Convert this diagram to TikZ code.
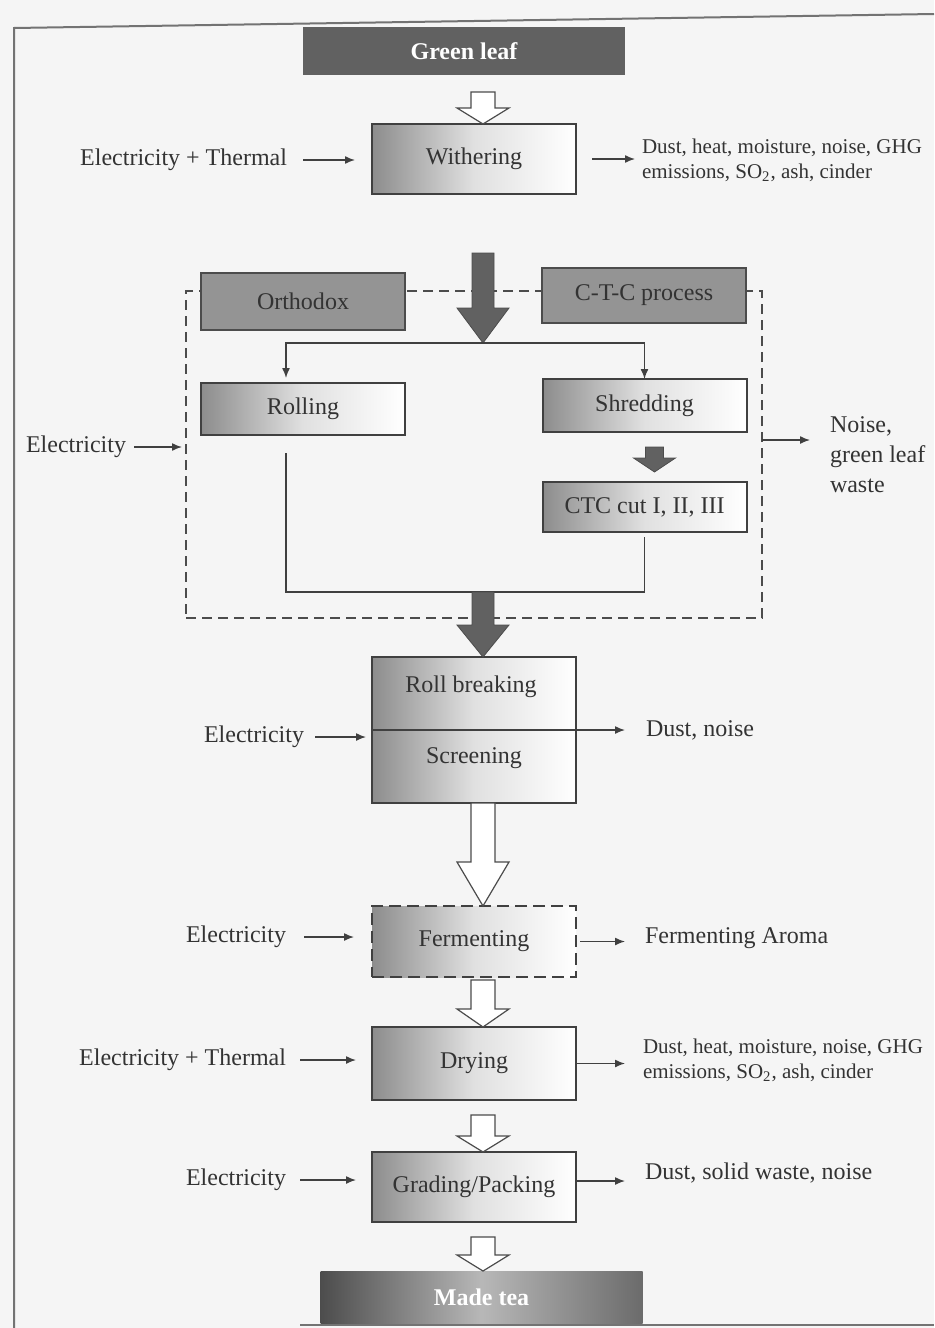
\documentclass[tikz,border=0pt]{standalone}
\usepackage{fontspec}
\setmainfont{Liberation Serif}
\usetikzlibrary{calc,arrows.meta}

\tikzset{
  proc/.style={draw=black!75, line width=1pt, minimum width=102pt, minimum height=35pt,
    inner sep=0pt, outer sep=0pt, left color=black!45, right color=white, middle color=black!12},
  greybox/.style={draw=black!70, line width=1pt, fill=black!42, minimum width=102pt,
    inner sep=0pt, outer sep=0pt},
  endbox/.style={minimum width=161pt, minimum height=24pt, inner sep=0pt, outer sep=0pt,
    text=white, font=\fontsize{12}{15}\selectfont\bfseries},
  lbl/.style={inner sep=0pt, outer sep=0pt},
  small/.style={font=\fontsize{10.5}{12.5}\selectfont},
  conn/.style={draw=black!75, line width=0.7pt, -{Latex[length=5pt,width=4pt]}},
  plain/.style={draw=black!75, line width=0.7pt},
  hollow/.style={draw=black!70, line width=0.6pt, fill=white},
  dark/.style={draw=black!70, line width=0.4pt, fill=black!62},
  frame/.style={draw=black!55, line width=1pt},
}

% block arrow: [style]{from}{to}{half shaft}{half head}{head length}
\newcommand{\blockarr}[6][]{%
  \path[#1] let \p1=(#2), \p2=(#3) in
    (\x1-#4,\y1) -- (\x1+#4,\y1) -- (\x1+#4,\y2+#6) -- (\x1+#5,\y2+#6)
    -- (\x1,\y2) -- (\x1-#5,\y2+#6) -- (\x1-#4,\y2+#6) -- cycle;}

\begin{document}
\begin{tikzpicture}[x=0.5pt, y=-0.5pt, font=\fontsize{12}{15}\selectfont, text=black!80]
  \useasboundingbox (0,0) rectangle (934,1328);
  % page
  \fill[black!4] (0,0) rectangle (934,1328);
  \draw[frame] (14,1328) -- (14,28) -- (934,14);
  \draw[frame] (300,1325) -- (934,1325);
  \coordinate (axis) at (483,0);

  % withering
  \node[endbox, fill=black!62] (green) at (464,51) {Green leaf};
  \node[proc] (wither) at (474,159) {Withering};
  \node[lbl, anchor=east] (inwither) at (287,160) {Electricity + Thermal};
  \node[lbl, small, anchor=west, align=left] (outwither) at (642,160)
    {Dust, heat, moisture, noise, GHG\\emissions, SO\textsubscript{2}, ash, cinder};
  \draw[conn, shorten <=8pt, shorten >=8.5pt] (inwither.east) -- (inwither.east -| wither.west);
  \draw[conn, shorten <=8pt, shorten >=3.5pt] (wither.east) -- (wither.east -| outwither.west);

  % rolling group
  \node[draw=black!70, line width=0.8pt, dash pattern=on 5pt off 3pt, minimum width=288pt,
    minimum height=163.5pt, inner sep=0pt, outer sep=0pt] (grp) at (474,454.5) {};
  \node[greybox, minimum height=28.5pt] (orth) at (303,301) {Orthodox};
  \node[greybox, minimum height=27.5pt] (ctcp) at (644,295.5) {C-T-C process};
  \node[proc, minimum height=26pt] (roll) at (303,409) {Rolling};
  \node[proc, minimum height=26.5pt] (shred) at (644.5,405.5) {Shredding};
  \node[proc, minimum height=25pt] (ctccut) at (644.5,507) {CTC cut I, II, III};
  \coordinate (darktop) at (483,253);
  \coordinate (split) at (483,343);
  \coordinate (merge) at (483,592);
  \blockarr[dark]{darktop}{split}{5.5pt}{13pt}{17.5pt}
  \draw[conn, shorten >=2.5pt] (split) -| ([xshift=-8.5pt]roll.north);
  \draw[conn] (split) -| (shred.north);
  \blockarr[dark]{$(shred.south)+(10,15)$}{$(ctccut.north)+(10,-10)$}{4.5pt}{10.5pt}{7pt}
  \draw[plain] ([xshift=-8.5pt,yshift=-9pt]roll.south) |- (merge) -| ([yshift=-2.5pt]ctccut.south);
  \node[lbl, anchor=east] (ingrp) at (126,447) {Electricity};
  \node[lbl, anchor=west, align=left] (waste) at (830,455) {Noise,\\green leaf\\waste};
  \draw[conn, shorten <=4pt, shorten >=2pt] (ingrp.east) -- (ingrp.east -| grp.west);
  \coordinate (wasteout) at ([yshift=7.25pt]grp.east);
  \draw[conn, shorten >=10pt] (wasteout) -- (wasteout -| waste.west);

  % roll breaking and screening
  \node[proc, minimum height=73pt] (rollscreen) at (474,730) {};
  \node[lbl] (rbtxt) at (471,687) {Roll breaking};
  \node[lbl] (sctxt) at (474,758) {Screening};
  \blockarr[dark]{merge}{rollscreen.north -| axis}{5.5pt}{13pt}{16pt}
  \node[lbl, anchor=east] (inrs) at (304,737) {Electricity};
  \node[lbl, anchor=west] (outrs) at (646,730) {Dust, noise};
  \draw[conn, shorten <=5.5pt, shorten >=3pt] (inrs.east) -- (inrs.east -| rollscreen.west);
  \draw[conn, shorten >=10.5pt] (rollscreen.west) -- (rollscreen.west -| outrs.west);

  % fermenting, drying, grading
  \node[proc, minimum height=35.5pt, line width=1.2pt, dash pattern=on 6pt off 3pt] (ferm) at (474,941.5) {Fermenting};
  \node[proc, minimum height=36.5pt] (dry) at (474,1063.5) {Drying};
  \node[proc] (grade) at (474,1187) {Grading/Packing};
  \node[endbox, left color=black!70, right color=black!58, middle color=black!28,
    minimum height=26pt] (made) at (481.5,1297) {Made tea};

  \node[lbl, anchor=east] (infe) at (286,937) {Electricity};
  \node[lbl, anchor=west] (outfe) at (645,938) {Fermenting Aroma};
  \node[lbl, anchor=east] (indr) at (286,1060) {Electricity + Thermal};
  \node[lbl, small, anchor=west, align=left] (outdr) at (643,1060)
    {Dust, heat, moisture, noise, GHG\\emissions, SO\textsubscript{2}, ash, cinder};
  \node[lbl, anchor=east] (ingr) at (286,1180) {Electricity};
  \node[lbl, anchor=west] (outgr) at (645,1173) {Dust, solid waste, noise};

  \draw[conn, shorten <=9pt, shorten >=9pt] (infe.east) -- (infe.east -| ferm.west);
  \draw[conn, shorten <=2pt, shorten >=10pt] (ferm.east) -- (ferm.east -| outfe.west);
  \draw[conn, shorten <=7pt, shorten >=8pt] (indr.east) -- (indr.east -| dry.west);
  \draw[conn, shorten >=9pt] (dry.east) -- (dry.east -| outdr.west);
  \draw[conn, shorten <=7pt, shorten >=8pt] (ingr.east) -- (ingr.east -| grade.west);
  \draw[conn, shorten >=10pt] ([yshift=3pt]grade.east) -- ([yshift=3pt]grade.east -| outgr.west);

  % hollow arrows
  \foreach \a/\b/\g/\h in {green/wither/17/8pt, rollscreen/ferm/0/22pt, ferm/dry/3/9pt,
      dry/grade/15/8pt, grade/made/15/8pt}
    {\blockarr[hollow]{$(\a.south -| axis)+(0,\g)$}{\b.north -| axis}{6pt}{13pt}{\h}}
\end{tikzpicture}
\end{document}
